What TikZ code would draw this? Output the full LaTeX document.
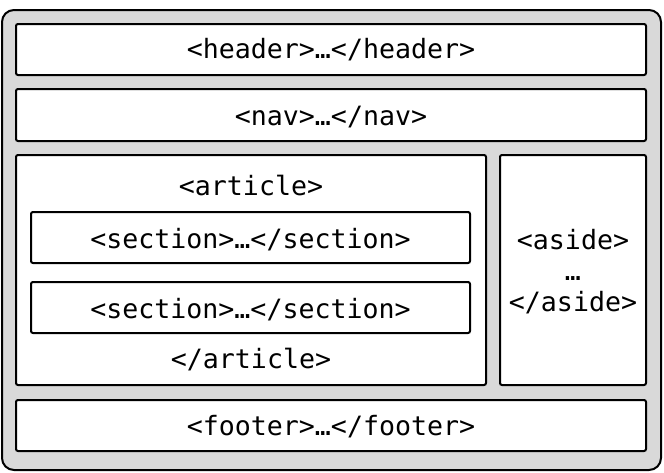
\documentclass[tikz,border=0pt]{standalone}
\usepackage{fontspec}
\setmonofont{DejaVu Sans Mono}
\usepackage{tikz}
\usetikzlibrary{positioning}

\tikzset{
	page/.style={draw=black, line width=2pt, fill=black!15, rounded corners=12pt},
	box/.style={draw=black, line width=2pt, fill=white, rounded corners=2pt, inner sep=0pt},
	tag/.style={font=\ttfamily\fontsize{26.6}{31}\selectfont, inner sep=0pt, align=center}
}

\begin{document}
\begin{tikzpicture}[x=1pt, y=-1pt]
	\useasboundingbox (0,0) rectangle (664,472);

	% Outer page
	\draw[page] (2,10) rectangle (661,470);

	% Header and nav bars
	\node[box, minimum width=630pt, minimum height=51pt] (header) at (331,49.5) {};
	\node[tag] (headertxt) at (331,50) {<header>…</header>};
	\node[box, minimum width=630pt, minimum height=52pt] (nav) at (331,115) {};
	\node[tag] (navtxt) at (331,117) {<nav>…</nav>};

	% Article with two sections
	\node[box, minimum width=470pt, minimum height=230pt] (article) at (251,270) {};
	\node[tag] (articleopen) at (251,186) {<article>};
	\node[box, minimum width=439pt, minimum height=51pt] (sectionA) at (250.5,237.5) {};
	\node[tag] (sectionAtxt) at (250.5,240) {<section>…</section>};
	\node[box, minimum width=439pt, minimum height=51pt] (sectionB) at (250.5,307.5) {};
	\node[tag] (sectionBtxt) at (250.5,310) {<section>…</section>};
	\node[tag] (articleclose) at (251,360) {</article>};

	% Aside
	\node[box, minimum width=146pt, minimum height=230pt] (aside) at (573,270) {};
	\node[tag] (asidetxt) at (573,272) {<aside>\\…\\</aside>};

	% Footer
	\node[box, minimum width=630pt, minimum height=51pt] (footer) at (331,425.5) {};
	\node[tag] (footertxt) at (331,427) {<footer>…</footer>};
\end{tikzpicture}
\end{document}
